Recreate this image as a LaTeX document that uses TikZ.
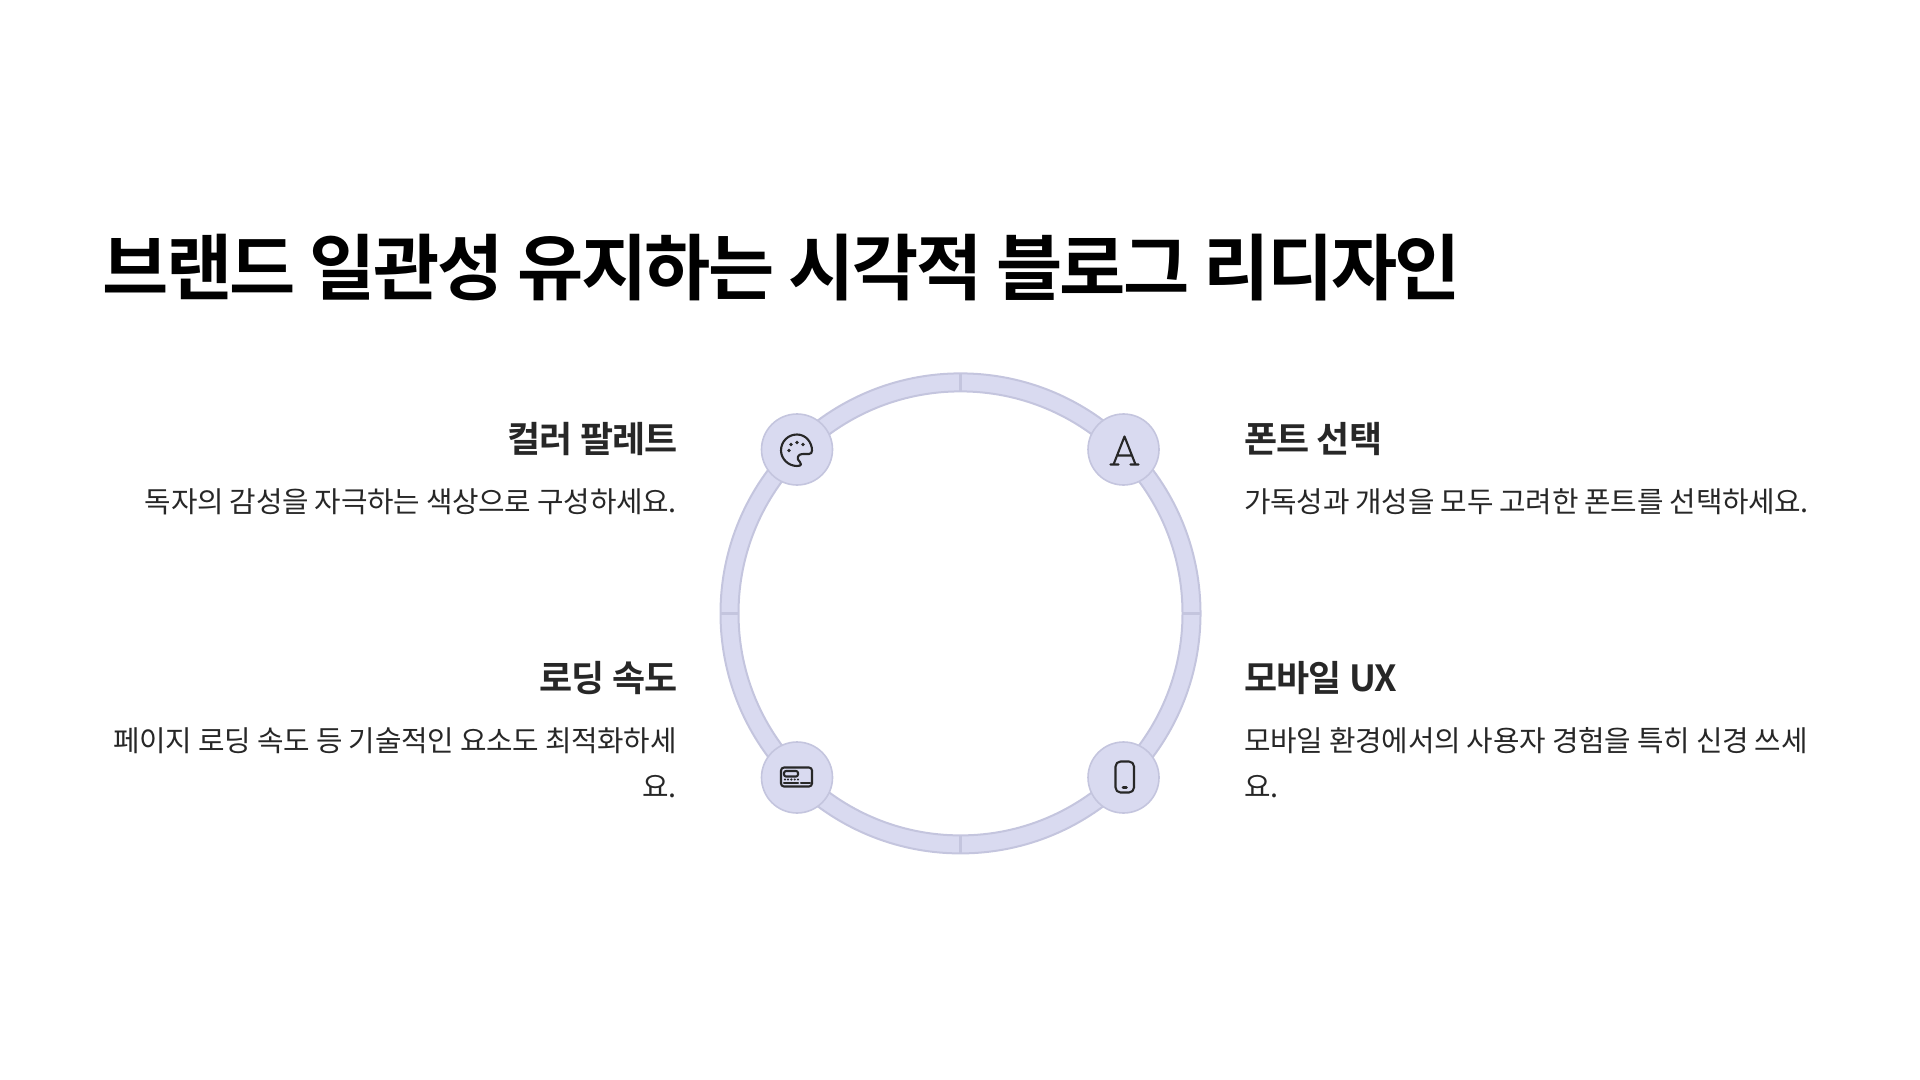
\documentclass[tikz,border=0pt]{standalone}
\usepackage{fontspec}
\setmainfont{Noto Sans CJK KR}
\newfontfamily\titlefont[LetterSpace=-3.5]{Noto Sans CJK KR Bold}
\newfontfamily\headfont[LetterSpace=-2.6]{Noto Sans CJK KR Bold}
\newfontfamily\bodyfont[LetterSpace=-1]{Noto Sans CJK KR}
\usepackage{tikz}
\definecolor{ringfill}{HTML}{D9DAF0}
\definecolor{ringline}{HTML}{C4C5DE}
\definecolor{inkdark}{HTML}{272727}
\tikzset{
  title/.style={anchor=base west,inner sep=0pt,text=black,font=\titlefont\fontsize{36}{40}\selectfont},
  headleft/.style={anchor=base east,inner sep=0pt,text=inkdark,font=\headfont\fontsize{18}{22}\selectfont},
  headright/.style={anchor=base west,inner sep=0pt,text=inkdark,font=\headfont\fontsize{18}{22}\selectfont},
  bodyleft/.style={anchor=north east,align=right,inner sep=0pt,text=inkdark,font=\bodyfont\fontsize{14.4}{23.2}\selectfont},
  bodyright/.style={anchor=north west,align=left,inner sep=0pt,text=inkdark,font=\bodyfont\fontsize{14.4}{23.2}\selectfont},
  badge/.style={circle,draw=ringline,fill=ringfill,line width=.8pt,minimum size=35.5pt,inner sep=0pt},
  icon/.style={draw=inkdark,line width=1.05pt,line cap=round,line join=round}
}
\begin{document}
\begin{tikzpicture}[x=.5pt,y=-.5pt]
  \useasboundingbox (0,0) rectangle (1920,1080);

  \node[title] (heading) at (102,295) {브랜드 일관성 유지하는 시각적 블로그 리디자인};

  % ring
  \coordinate (hub) at (960.5,613.4);
  \fill[ringfill,even odd rule] (hub) circle[radius=120pt] (hub) circle[radius=111pt];
  \draw[ringline,line width=1pt] (hub) circle[radius=120pt] (hub) circle[radius=111pt];
  \foreach \a in {0,90,180,270}
    \draw[ringline,line width=1.2pt] (hub) ++(\a:222) -- ++(\a:18.5);

  \node[badge] (palette) at (797,449.5) {};
  \node[badge] (fontpick) at (1123.5,449.5) {};
  \node[badge] (loading) at (797,777.5) {};
  \node[badge] (mobile) at (1123.5,777.5) {};

  % palette icon
  \draw[icon,shift={(palette.center)}] (0,16.5) .. controls (-9,16.5) and (-16,9) .. (-16,1)
    .. controls (-16,-8) and (-9,-15) .. (0,-15) .. controls (9,-15) and (15,-7) .. (15,1)
    .. controls (15,3) and (14,4.5) .. (12,4.5) -- (6,4.5) .. controls (2,4.5) and (0,7) .. (1,10)
    .. controls (2,12) and (4,13) .. (4,15) .. controls (4,16) and (2,16.5) .. (0,16.5) -- cycle;
  \foreach \x/\y in {-6/-5,0/-7,6/-5,-8/1}
    \fill[inkdark,shift={(palette.center)}] (\x,\y) circle[radius=.9pt];

  % font icon
  \draw[icon,shift={(fontpick.center)}] (-10,15) -- (1,-13) -- (12,15) (-6,6) -- (8,6)
    (-13,15) -- (-5,15) (7,15) -- (15,15);

  % card icon
  \draw[icon,rounded corners=1.5pt,shift={(loading.center)}] (-16,-10) rectangle (15,9);
  \draw[icon,rounded corners=1pt,shift={(loading.center)}] (-13,-6.5) rectangle (1,-1);
  \draw[icon,shift={(loading.center)}] (4,5.3) -- (13,5.3) (-13,5.3) -- (1,5.3);
  \foreach \x in {-12,-9,-5.7,-2.3,1}
    \fill[inkdark,shift={(loading.center)}] (\x,2) circle[radius=.6pt];

  % phone icon
  \draw[icon,rounded corners=2.5pt,shift={(mobile.center)}] (-8,-16) rectangle (10.5,15);
  \draw[icon,line width=1.3pt,shift={(mobile.center)}] (-.5,10) -- (3,10);

  \node[headleft] (h1) at (678,452.5) {컬러 팔레트};
  \node[bodyleft] (b1) at (677,488) {독자의 감성을 자극하는 색상으로 구성하세요.};
  \node[headright] (h2) at (1244,452.5) {폰트 선택};
  \node[bodyright] (b2) at (1244,488) {가독성과 개성을 모두 고려한 폰트를 선택하세요.};
  \node[headleft] (h3) at (678,691.5) {로딩 속도};
  \node[bodyleft] (b3) at (677,727) {페이지 로딩 속도 등 기술적인 요소도 최적화하세\\요.};
  \node[headright] (h4) at (1244,691.5) {모바일 UX};
  \node[bodyright] (b4) at (1244,727) {모바일 환경에서의 사용자 경험을 특히 신경 쓰세\\요.};
\end{tikzpicture}
\end{document}
